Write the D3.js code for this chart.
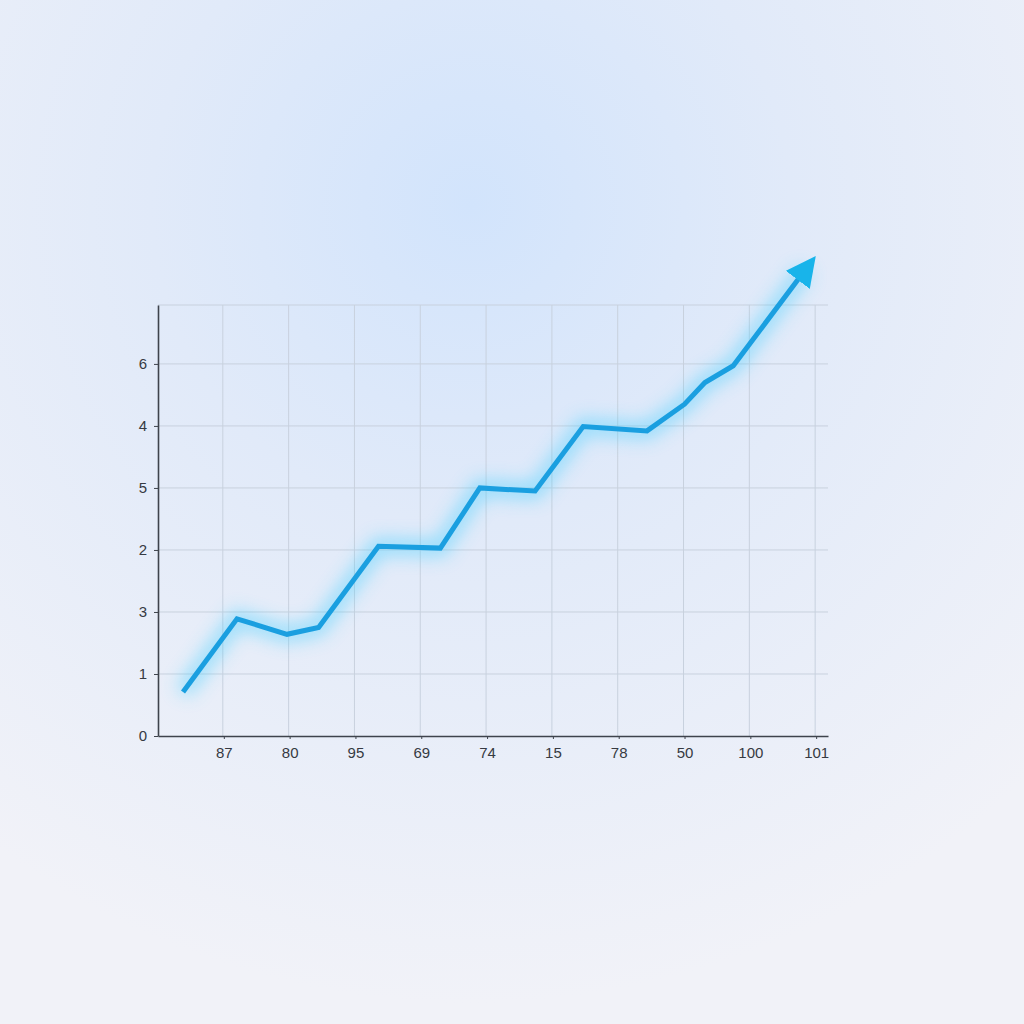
<!DOCTYPE html>
<html>
<head>
<meta charset="utf-8">
<script src="https://cdn.jsdelivr.net/npm/d3@7"></script>
<style>
  html, body { margin: 0; padding: 0; }
  body { width: 1024px; height: 1024px; overflow: hidden; }
</style>
</head>
<body>
<svg id="chart" width="1024" height="1024"></svg>
<script>
// tick labels as they appear on the chart (order kept as in picture)
var xLabels = ['87', '80', '95', '69', '74', '15', '78', '50', '100', '101']
var yLabels = ['0', '1', '3', '2', '5', '4', '6']

// line vertices: x in category steps, y in grid steps
var lineX = [0.38, 1.20, 1.96, 2.44, 3.35, 4.29, 4.89, 5.73, 6.46, 7.43, 8.00, 8.31, 8.74, 9.83]
var lineY = [0.71, 1.89, 1.64, 1.75, 3.06, 3.03, 4.00, 3.95, 4.99, 4.92, 5.35, 5.70, 5.97, 7.51]

var margin = {left: 158, top: 305, right: 196, bottom: 288}

var svg = d3.select('#chart')
var width = 1024 - margin.left - margin.right
var height = 1024 - margin.top - margin.bottom

var defs = svg.append('defs')

// soft background
var bg = defs.append('radialGradient').attr('id', 'bg')
	.attr('cx', 0.46).attr('cy', 0.2).attr('r', 0.78)
bg.append('stop').attr('offset', '0%').attr('stop-color', '#d2e4fc')
bg.append('stop').attr('offset', '40%').attr('stop-color', '#e1eaf9')
bg.append('stop').attr('offset', '100%').attr('stop-color', '#f1f2f8')

svg.append('rect').attr('width', 1024).attr('height', 1024).attr('fill', 'url(#bg)')

var glow = defs.append('filter').attr('id', 'glow')
	.attr('x', '-20%').attr('y', '-20%').attr('width', '140%').attr('height', '140%')
glow.append('feGaussianBlur').attr('stdDeviation', 9)

defs.append('marker').attr('id', 'arrow')
	.attr('viewBox', '0 0 10 10')
	.attr('refX', 4).attr('refY', 5)
	.attr('markerWidth', 6).attr('markerHeight', 6)
	.attr('markerUnits', 'strokeWidth')
	.attr('orient', 'auto')
	.append('path').attr('d', 'M0,0 L10,5 L0,10 Z').attr('fill', '#18b4ea')

var graph = svg.append('g')
	.attr('transform', 'translate(' + margin.left + ',' + margin.top + ')')

var xscale = d3.scaleLinear().domain([0, 10.18]).range([0, width])
var yscale = d3.scaleLinear().domain([0, 6.95]).range([height, 0])

// grid
graph.append('g').selectAll('line').data(d3.range(1, 11))
	.enter().append('line')
	.attr('x1', d => xscale(d) - 1).attr('x2', d => xscale(d) - 1)
	.attr('y1', 0).attr('y2', height)
	.attr('stroke', '#c8d1de').attr('stroke-width', 1)

graph.append('g').selectAll('line').data([1, 2, 3, 4, 5, 6, 6.95])
	.enter().append('line')
	.attr('x1', 0).attr('x2', width)
	.attr('y1', d => yscale(d)).attr('y2', d => yscale(d))
	.attr('stroke', '#c8d1de').attr('stroke-width', 1)

// axes
var xAxis = graph.append('g')
	.attr('transform', 'translate(0,' + height + ')')
	.call(d3.axisBottom(xscale)
		.tickValues(d3.range(1, 11))
		.tickFormat((d, i) => xLabels[i])
		.tickSize(3).tickSizeOuter(0).tickPadding(8))

var yAxis = graph.append('g')
	.call(d3.axisLeft(yscale)
		.tickValues(d3.range(0, 7))
		.tickFormat((d, i) => yLabels[i])
		.tickSize(4).tickSizeOuter(0).tickPadding(7))

svg.selectAll('.domain').attr('stroke', '#3e434c').attr('stroke-width', 1.6)
svg.selectAll('.tick line').attr('stroke', '#3e434c')
svg.selectAll('.tick text')
	.attr('fill', '#363a42')
	.style('font-family', '"Liberation Sans", Arial, sans-serif')
	.style('font-size', '15px')

// line
var pts = lineX.map((x, i) => [x, lineY[i]])
var line = d3.line().x(d => xscale(d[0])).y(d => yscale(d[1]))

graph.append('path').datum(pts)
	.attr('d', line)
	.attr('fill', 'none')
	.attr('stroke', '#40cfff')
	.attr('stroke-width', 16)
	.attr('opacity', 0.5)
	.attr('filter', 'url(#glow)')

graph.append('path').datum(pts)
	.attr('d', line)
	.attr('fill', 'none')
	.attr('stroke', '#1a9fe0')
	.attr('stroke-width', 5)
	.attr('stroke-linejoin', 'miter')
	.attr('marker-end', 'url(#arrow)')
</script>
</body>
</html>
